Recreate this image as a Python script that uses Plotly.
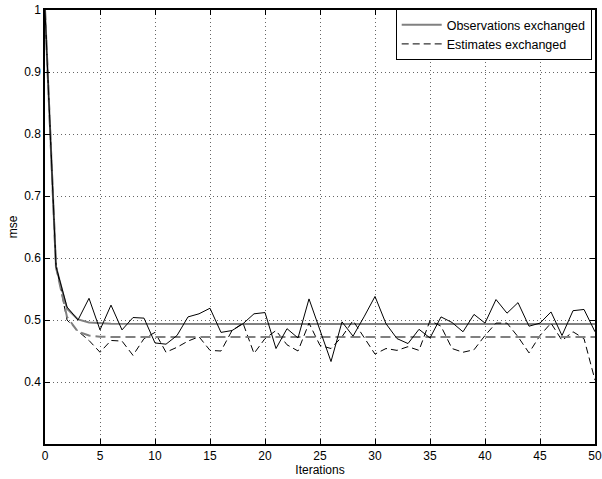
import plotly.graph_objects as go

iterations = list(range(51))

obs_noisy = [1.0, 0.586, 0.521, 0.500, 0.535, 0.484, 0.524, 0.484, 0.504, 0.503,
             0.463, 0.461, 0.475, 0.505, 0.510, 0.519, 0.480, 0.483, 0.494, 0.510,
             0.512, 0.454, 0.486, 0.471, 0.534, 0.483, 0.433, 0.497, 0.474, 0.505,
             0.538, 0.494, 0.470, 0.462, 0.485, 0.471, 0.505, 0.496, 0.481, 0.509,
             0.495, 0.533, 0.511, 0.528, 0.490, 0.495, 0.513, 0.475, 0.515, 0.517,
             0.481]

est_noisy = [1.0, 0.590, 0.500, 0.482, 0.467, 0.448, 0.467, 0.466, 0.443, 0.470,
             0.480, 0.448, 0.456, 0.466, 0.473, 0.451, 0.450, 0.483, 0.495, 0.446,
             0.470, 0.483, 0.460, 0.450, 0.495, 0.459, 0.454, 0.473, 0.499, 0.473,
             0.445, 0.454, 0.451, 0.457, 0.451, 0.499, 0.490, 0.454, 0.448, 0.452,
             0.475, 0.495, 0.495, 0.473, 0.447, 0.475, 0.495, 0.467, 0.481, 0.470,
             0.403]

smooth_x = [0, 1, 2, 3, 4, 5, 6, 50]
obs_smooth = [1.0, 0.586, 0.518, 0.501, 0.496, 0.4945, 0.4938, 0.4935]
est_smooth = [1.0, 0.585, 0.505, 0.481, 0.475, 0.4730, 0.4727, 0.4725]

x_ticks = [0, 5, 10, 15, 20, 25, 30, 35, 40, 45, 50]
y_ticks = [0.4, 0.5, 0.6, 0.7, 0.8, 0.9, 1.0]
y_tick_labels = ["0.4", "0.5", "0.6", "0.7", "0.8", "0.9", "1"]

FONT = "Liberation Sans, Arial, Helvetica"

fig = go.Figure()
fig.add_trace(go.Scatter(x=smooth_x, y=obs_smooth, mode="lines",
                         name="Observations exchanged",
                         line=dict(color="#808080", width=2)))
fig.add_trace(go.Scatter(x=iterations, y=est_noisy, mode="lines",
                         name="Estimates exchanged",
                         line=dict(color="black", width=1, dash="7px,4px")))
fig.add_trace(go.Scatter(x=smooth_x, y=est_smooth, mode="lines", showlegend=False,
                         line=dict(color="#808080", width=2, dash="10px,5px")))
fig.add_trace(go.Scatter(x=iterations, y=obs_noisy, mode="lines", showlegend=False,
                         line=dict(color="black", width=1)))

axis_common = dict(showline=True, linecolor="black", linewidth=1.5, mirror="ticks",
                   ticks="inside", ticklen=5, tickcolor="black",
                   showgrid=True, gridcolor="rgba(0,0,0,0.6)", griddash="1px,3px",
                   gridwidth=1, zeroline=False, automargin=False,
                   tickfont=dict(family=FONT, size=12, color="black"))

fig.update_xaxes(range=[0, 50], tickvals=x_ticks,
                 title=dict(text="Iterations", standoff=1,
                            font=dict(family=FONT, size=12, color="black")),
                 **axis_common)
fig.update_yaxes(range=[0.3, 1.0], tickvals=y_ticks, ticktext=y_tick_labels,
                 title=dict(text="mse", standoff=4,
                            font=dict(family=FONT, size=12, color="black")),
                 **axis_common)

fig.update_layout(
    width=602, height=479,
    margin=dict(l=45, r=7, t=10, b=35),
    paper_bgcolor="white", plot_bgcolor="white",
    font=dict(family=FONT, size=12, color="black"),
    showlegend=True,
    legend=dict(x=0.994, y=0.9435, xanchor="right", yanchor="middle",
                bgcolor="white", bordercolor="black", borderwidth=1,
                font=dict(family=FONT, size=12.5, color="black"),
                tracegroupgap=0, itemwidth=40),
)

fig.write_html("out.html", config={"displayModeBar": False},
               post_script="document.body.style.margin='0px';document.body.style.overflow='hidden';")
